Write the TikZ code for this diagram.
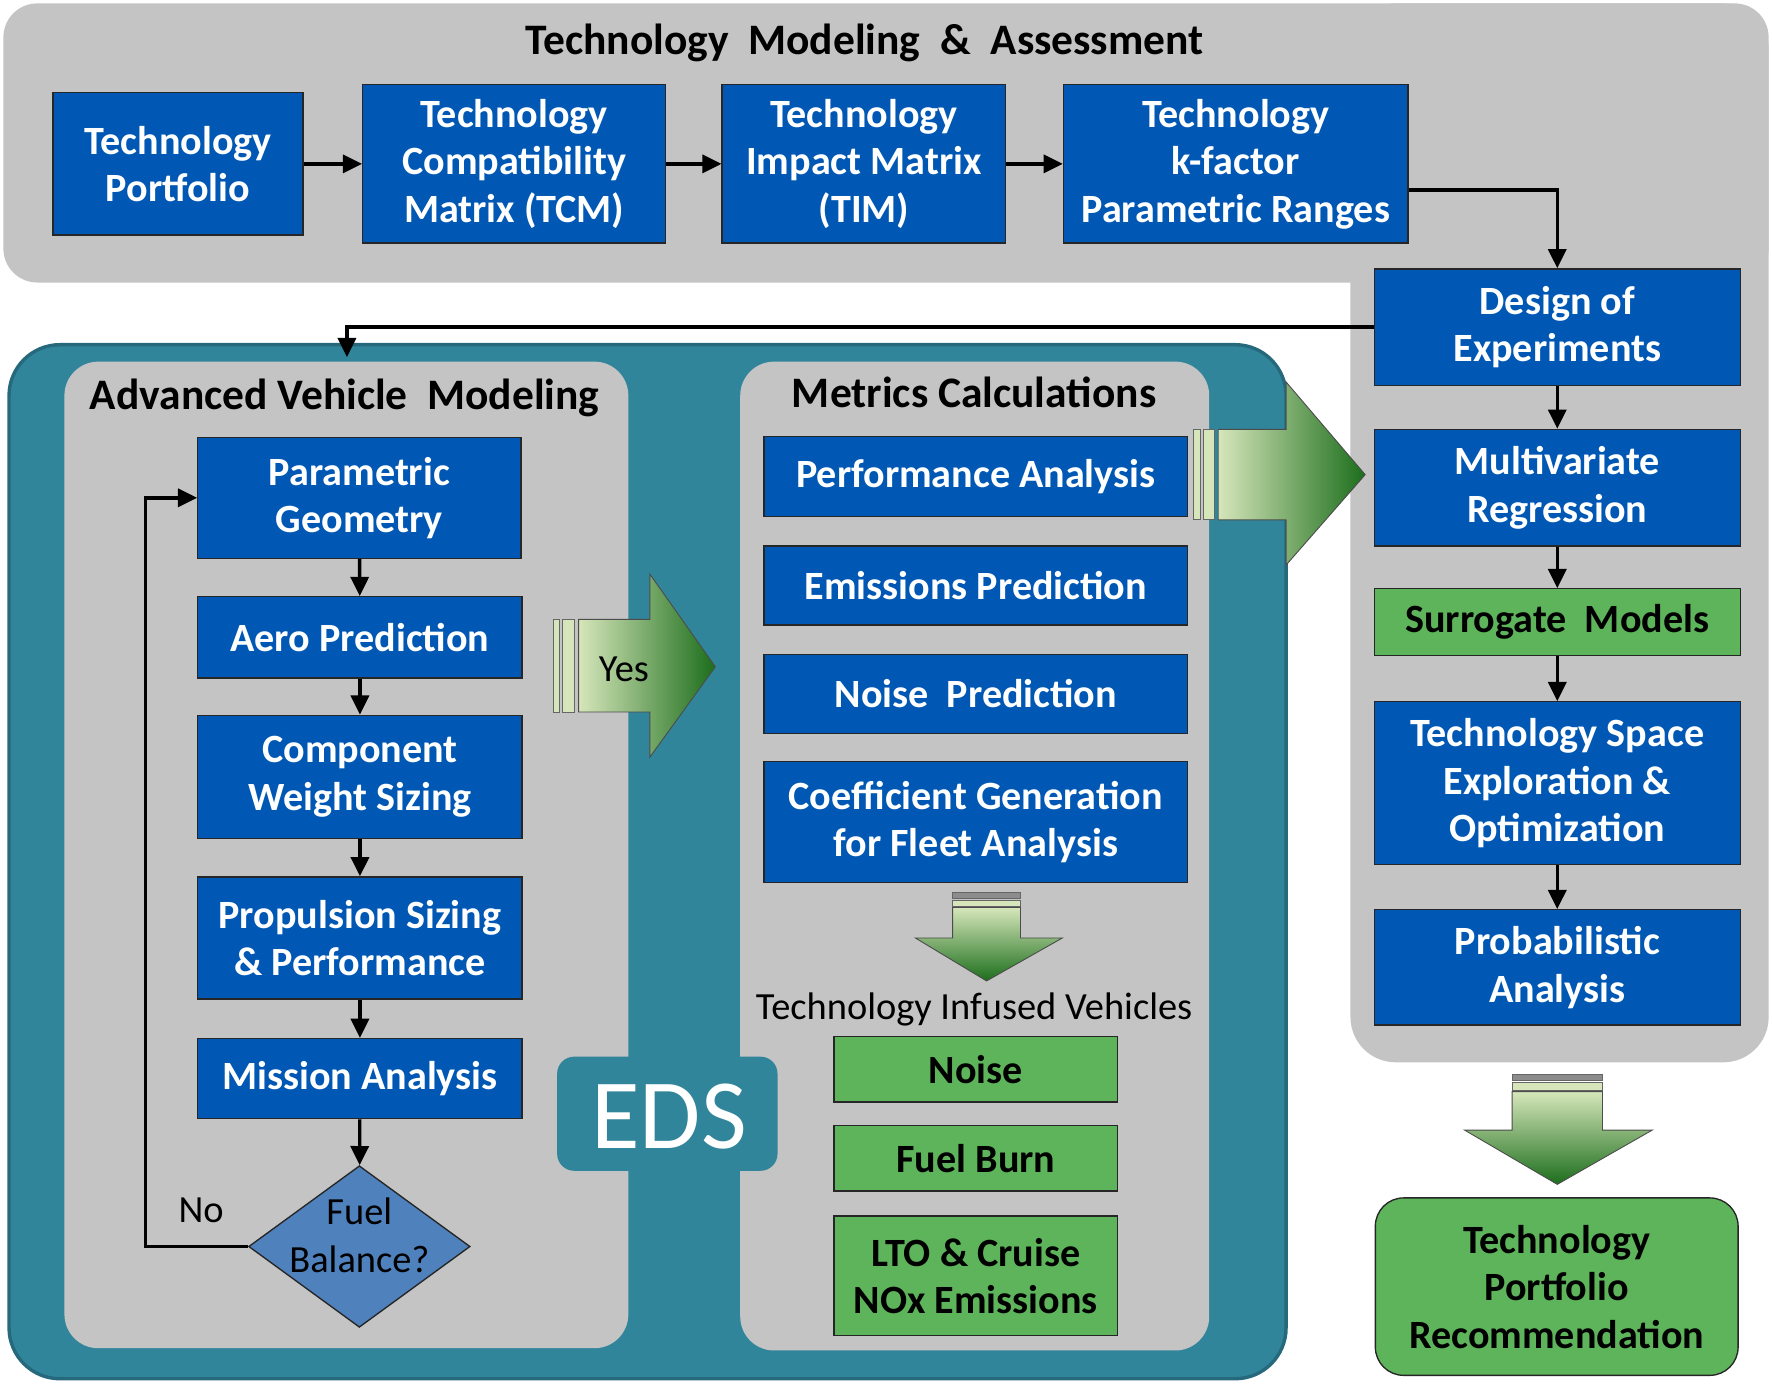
\documentclass[tikz,border=0pt]{standalone}
\usepackage{fontspec}
\setmainfont{Carlito}
\usetikzlibrary{arrows.meta,shapes.geometric}
\definecolor{pgray}{RGB}{196,196,196}
\definecolor{tealp}{RGB}{49,133,155}
\definecolor{tealdk}{RGB}{38,105,124}
\definecolor{boxblue}{RGB}{0,88,180}
\definecolor{diablue}{RGB}{79,129,189}
\definecolor{boxgreen}{RGB}{94,180,90}
\definecolor{lgreen}{RGB}{214,230,186}
\definecolor{dgreen}{RGB}{28,110,28}
\newcommand{\mybf}{\fontsize{35.5}{42}\selectfont\bfseries}
\newcommand{\myrg}{\fontsize{34}{42}\selectfont}
\newcommand{\myttl}{\fontsize{38.5}{44}\selectfont\bfseries}
\tikzset{
  bbox/.style={draw=black!85, line width=1.2pt, fill=boxblue, text=white, font=\mybf, align=center, inner sep=0pt},
  gbox/.style={draw=black!85, line width=1.2pt, fill=boxgreen, text=black, font=\mybf, align=center, inner sep=0pt},
  arr/.style={line width=3pt, -{Triangle[length=17pt,width=16pt]}},
  stripe/.style={draw=black!60, line width=0.8pt, fill=lgreen},
  barrow/.style={draw=black!70, line width=0.8pt},
  ttl/.style={font=\myttl, text=black}
}
\begin{document}
\begin{tikzpicture}[x=1pt,y=-1pt]
\useasboundingbox (0,0) rectangle (1568,1225);
\fill[white] (0,0) rectangle (1568,1225);
% gray panels top + right
\fill[pgray, rounded corners=30pt] (3,3) rectangle (1565,250);
\fill[pgray, rounded corners=40pt] (1195,3) rectangle (1565,940);
\node[ttl] (t1) at (765,38) {Technology\ \ Modeling\ \ \&\ \ Assessment};
% EDS panel
\draw[fill=tealp, draw=tealdk, line width=3pt, rounded corners=45pt] (8,305) rectangle (1138,1220);
\fill[pgray, rounded corners=30pt] (57,320) rectangle (556,1193);
\fill[pgray, rounded corners=30pt] (655,320) rectangle (1070,1195);
\fill[tealp, rounded corners=15pt] (493,935) rectangle (688,1036);
\node[text=white, font=\fontsize{88}{90}\selectfont] (eds) at (592,988) {EDS};
\node[ttl] (t2) at (305,352) {Advanced\ Vehicle\ \ Modeling};
\node[ttl] (t3) at (862,347) {Metrics Calculations};
% top row
\node[bbox, minimum width=221pt, minimum height=126pt] (tp) at (157.5,145) {Technology\\Portfolio};
\node[bbox, minimum width=268pt, minimum height=140pt] (tcm) at (455,145) {Technology\\Compatibility\\Matrix (TCM)};
\node[bbox, minimum width=251pt, minimum height=140pt] (tim) at (764.5,145) {Technology\\Impact Matrix\\(TIM)};
\node[bbox, minimum width=305pt, minimum height=140pt] (kf) at (1093.5,145) {Technology\\k-factor\\Parametric Ranges};
\draw[arr] (tp) -- (tcm);
\draw[arr] (tcm) -- (tim);
\draw[arr] (tim) -- (kf);
% right column
\node[bbox, minimum width=324pt, minimum height=103pt] (doe) at (1378,289.5) {Design of\\Experiments};
\node[bbox, minimum width=324pt, minimum height=103pt] (mvr) at (1378,431.5) {Multivariate\\Regression};
\node[gbox, minimum width=324pt, minimum height=59pt] (sur) at (1378,550.5) {Surrogate\ \ Models};
\node[bbox, minimum width=324pt, minimum height=144pt] (tse) at (1378,693) {Technology Space\\Exploration \&\\Optimization};
\node[bbox, minimum width=324pt, minimum height=102pt] (pa) at (1378,856) {Probabilistic\\Analysis};
\draw[arr] ([yshift=-23pt]kf.east) -| (doe.north);
\draw[arr] (doe) -- (mvr);
\draw[arr] (mvr) -- (sur);
\draw[arr] (sur) -- (tse);
\draw[arr] (tse) -- (pa);
\coordinate (avm) at (307,316);
\draw[arr] (doe.west) -| (avm);
% left column
\node[bbox, minimum width=286pt, minimum height=107pt] (pg) at (318,440.5) {Parametric\\Geometry};
\node[bbox, minimum width=287pt, minimum height=72pt] (aero) at (318.5,564) {Aero Prediction};
\node[bbox, minimum width=287pt, minimum height=109pt] (cws) at (318.5,687.5) {Component\\Weight Sizing};
\node[bbox, minimum width=287pt, minimum height=108pt] (prop) at (318.5,830) {Propulsion Sizing\\\& Performance};
\node[bbox, minimum width=287pt, minimum height=71pt] (mis) at (318.5,954.5) {Mission Analysis};
\node[diamond, draw=black!85, line width=1.2pt, fill=diablue, minimum width=196pt, minimum height=143pt, inner sep=0pt] (fb) at (318,1103) {};
\node[font=\myrg, align=center] (fbt) at (318,1093) {Fuel\\Balance?};
\draw[arr] (pg) -- (aero);
\draw[arr] (aero) -- (cws);
\draw[arr] (cws) -- (prop);
\draw[arr] (prop) -- (mis);
\draw[arr] (mis) -- (fb);
\coordinate (loop) at (129,1103);
\draw[arr] (fb.west) -- (loop) |- (pg.west);
\node[font=\myrg] (no) at (178,1071) {No};
% yes arrow
\filldraw[stripe] (490,548) rectangle (495,630);
\filldraw[stripe] (498,548) rectangle (508,630);
\path[barrow, left color=lgreen, right color=dgreen] (512,548) -- (575,548) -- (575,508) -- (633,590) -- (575,670) -- (575,630) -- (512,630) -- cycle;
\node[font=\myrg] (yes) at (552,592) {Yes};
% middle column
\node[bbox, minimum width=375pt, minimum height=71pt] (perf) at (863.5,421.5) {Performance Analysis};
\node[bbox, minimum width=375pt, minimum height=70pt] (emis) at (863.5,518) {Emissions Prediction};
\node[bbox, minimum width=375pt, minimum height=70pt] (noip) at (863.5,614) {Noise\ \ Prediction};
\node[bbox, minimum width=375pt, minimum height=107pt] (coef) at (863.5,727.5) {Coefficient Generation\\for Fleet Analysis};
% big right arrow
\filldraw[stripe] (1056,380) rectangle (1062,460);
\filldraw[stripe] (1065,380) rectangle (1075,460);
\path[barrow, left color=lgreen, right color=dgreen] (1078,380) -- (1138,380) -- (1138,338) -- (1208,420) -- (1138,500) -- (1138,460) -- (1078,460) -- cycle;
% middle down arrow
\filldraw[stripe, fill=black!45] (843,790) rectangle (903,795);
\filldraw[stripe] (843,797) rectangle (903,802);
\path[barrow, top color=lgreen, bottom color=dgreen] (843,803) -- (903,803) -- (903,830) -- (940,830) -- (873,868) -- (810,830) -- (843,830) -- cycle;
\node[font=\myrg] (tiv) at (862,893) {Technology Infused Vehicles};
\node[gbox, minimum width=251pt, minimum height=58pt] (noise) at (863.5,946) {Noise};
\node[gbox, minimum width=251pt, minimum height=58pt] (fuel) at (863.5,1025) {Fuel Burn};
\node[gbox, minimum width=251pt, minimum height=106pt] (lto) at (863.5,1129) {LTO \& Cruise\\NOx Emissions};
% bottom right arrow
\filldraw[stripe, fill=black!45] (1338,951) rectangle (1418,956);
\filldraw[stripe] (1338,958) rectangle (1418,965);
\path[barrow, top color=lgreen, bottom color=dgreen] (1338,966) -- (1418,966) -- (1418,1000) -- (1462,1000) -- (1378,1048) -- (1296,1000) -- (1338,1000) -- cycle;
\node[gbox, rounded corners=25pt, minimum width=321pt, minimum height=157pt] (tpr) at (1377.5,1138.5) {Technology\\Portfolio\\Recommendation};
\end{tikzpicture}
\end{document}
